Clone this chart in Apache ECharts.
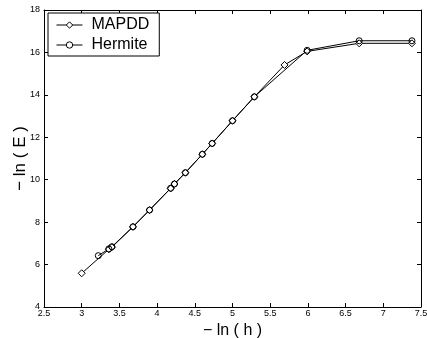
<!DOCTYPE html>
<html><head><meta charset="utf-8">
<script src="https://cdn.jsdelivr.net/npm/echarts@6/dist/echarts.min.js"></script>
<style>html,body{margin:0;padding:0;background:#fff}#c{width:427px;height:338px}</style>
</head><body><div id="c"></div>
<script>
const mapddX = [3.0, 3.36, 3.40, 3.68, 3.90, 4.18, 4.23, 4.375, 4.60, 4.73, 5.0, 5.29, 5.69, 5.99, 6.68, 7.38];
const mapddY = [5.59, 6.72, 6.82, 7.78, 8.57, 9.59, 9.80, 10.33, 11.20, 11.71, 12.78, 13.91, 15.41, 16.05, 16.43, 16.43];
const hermiteX = [3.22, 3.36, 3.40, 3.68, 3.90, 4.18, 4.23, 4.375, 4.60, 4.73, 5.0, 5.29, 5.99, 6.68, 7.38];
const hermiteY = [6.42, 6.74, 6.84, 7.78, 8.57, 9.60, 9.80, 10.33, 11.20, 11.71, 12.78, 13.91, 16.10, 16.55, 16.55];
const seriesNames = ['MAPDD', 'Hermite'];
const xTitle = '\u2212 ln ( h )';
const yTitle = '\u2212 ln ( E )';

const font = 'Liberation Sans, Arial, sans-serif';
const zip = (xs, ys) => xs.map((x, i) => [x, ys[i]]);
const chart = echarts.init(document.getElementById('c'));
const axisCommon = {
  axisLine: {show: true, onZero: false, lineStyle: {color: '#000', width: 1}},
  axisTick: {show: true, inside: true, length: 4, lineStyle: {color: '#000'}},
  splitLine: {show: false}
};
chart.setOption({
  animation: false,
  backgroundColor: '#fff',
  grid: {left: 44, right: 6, top: 10, bottom: 31, containLabel: false, outerBoundsMode: 'none'},
  legend: {
    left: 48, top: 13, orient: 'vertical',
    data: seriesNames,
    itemWidth: 26, itemHeight: 8, itemGap: 4,
    borderColor: '#000', borderWidth: 1, backgroundColor: '#fff',
    padding: [4, 10, 3, 8],
    lineStyle: {width: 1, color: '#000'},
    itemStyle: {borderWidth: 1, borderColor: '#000', color: '#fff'},
    textStyle: {fontFamily: font, fontSize: 16, color: '#000', padding: [0, 0, 0, 4]}
  },
  xAxis: [
    Object.assign({type: 'value', min: 2.5, max: 7.5, interval: 0.5, position: 'bottom',
      name: xTitle, nameLocation: 'middle', nameGap: 15,
      nameTextStyle: {fontFamily: font, fontSize: 16, color: '#000'},
      axisLabel: {fontFamily: font, fontSize: 9, color: '#000', margin: 2}}, axisCommon),
    Object.assign({type: 'value', min: 2.5, max: 7.5, interval: 0.5, position: 'top',
      axisLabel: {show: false}}, axisCommon)
  ],
  yAxis: [
    Object.assign({type: 'value', min: 4, max: 18, interval: 2, position: 'left',
      name: yTitle, nameLocation: 'middle', nameGap: 15, nameMoveOverlap: false,
      nameTextStyle: {fontFamily: font, fontSize: 17, color: '#000'},
      axisLabel: {fontFamily: font, fontSize: 9, color: '#000', margin: 4}}, axisCommon),
    Object.assign({type: 'value', min: 4, max: 18, interval: 2, position: 'right',
      axisLabel: {show: false}}, axisCommon)
  ],
  series: [
    {name: seriesNames[0], type: 'line', data: zip(mapddX, mapddY),
     symbol: 'diamond', symbolSize: 7, showAllSymbol: true,
     lineStyle: {color: '#000', width: 1},
     itemStyle: {color: '#fff', borderColor: '#000', borderWidth: 1}},
    {name: seriesNames[1], type: 'line', data: zip(hermiteX, hermiteY),
     symbol: 'circle', symbolSize: 6, showAllSymbol: true,
     lineStyle: {color: '#000', width: 1},
     itemStyle: {color: 'rgba(255,255,255,0)', borderColor: '#000', borderWidth: 1}}
  ]
});
</script></body></html>
